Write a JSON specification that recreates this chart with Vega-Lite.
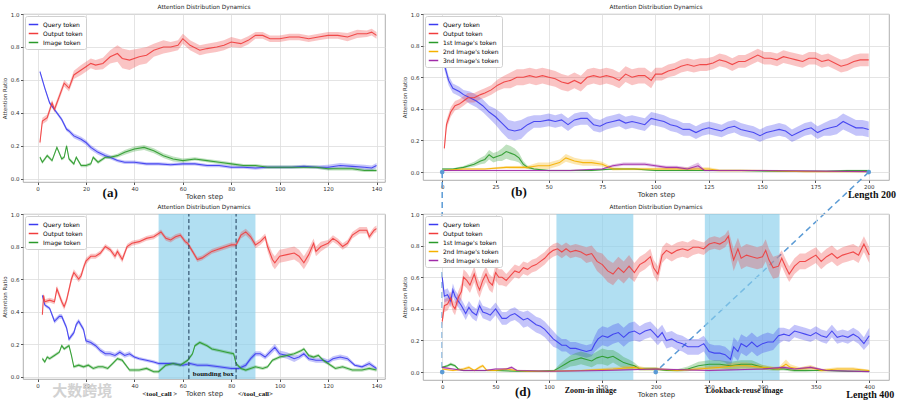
{
"$schema":"https://vega.github.io/schema/vega-lite/v6.json",
"background":"white",
"padding":{"left":1,"top":3,"right":4,"bottom":2},
"config":{
 "font":"DejaVu Sans",
 "view":{"stroke":"#9a9a9a","strokeWidth":0.8},
 "axis":{"grid":true,"gridColor":"#dddddd","gridWidth":0.8,"domain":false,"tickColor":"#555555","tickSize":2.5,"labelFontSize":5.5,"labelColor":"#333333","titleFontSize":5.5,"titleFontWeight":"normal","titleColor":"#333333","labelPadding":1.5,"titlePadding":3},
 "axisX":{"titleFontSize":7,"titlePadding":1},
 "title":{"fontSize":5.8,"fontWeight":"normal","offset":2,"color":"#222222"}
},
"datasets":{
"a":[
{"s":"q","x":1,"y":0.65,"e":0.01},{"s":"q","x":3,"y":0.55,"e":0.01},{"s":"q","x":5,"y":0.46,"e":0.01},{"s":"q","x":8,"y":0.40,"e":0.01},{"s":"q","x":10,"y":0.36,"e":0.012},{"s":"q","x":12,"y":0.30,"e":0.012},{"s":"q","x":13,"y":0.29,"e":0.012},{"s":"q","x":15,"y":0.26,"e":0.015},{"s":"q","x":18,"y":0.24,"e":0.015},{"s":"q","x":20,"y":0.22,"e":0.015},{"s":"q","x":22,"y":0.19,"e":0.015},{"s":"q","x":25,"y":0.16,"e":0.015},{"s":"q","x":28,"y":0.14,"e":0.015},{"s":"q","x":30,"y":0.13,"e":0.012},{"s":"q","x":33,"y":0.11,"e":0.01},{"s":"q","x":36,"y":0.10,"e":0.01},{"s":"q","x":40,"y":0.10,"e":0.01},{"s":"q","x":45,"y":0.09,"e":0.01},{"s":"q","x":50,"y":0.09,"e":0.01},{"s":"q","x":55,"y":0.085,"e":0.01},{"s":"q","x":60,"y":0.09,"e":0.01},{"s":"q","x":65,"y":0.09,"e":0.01},{"s":"q","x":70,"y":0.08,"e":0.01},{"s":"q","x":75,"y":0.08,"e":0.01},{"s":"q","x":80,"y":0.07,"e":0.01},{"s":"q","x":85,"y":0.07,"e":0.01},{"s":"q","x":90,"y":0.065,"e":0.01},{"s":"q","x":95,"y":0.07,"e":0.01},{"s":"q","x":100,"y":0.07,"e":0.01},{"s":"q","x":105,"y":0.07,"e":0.01},{"s":"q","x":110,"y":0.075,"e":0.01},{"s":"q","x":115,"y":0.07,"e":0.01},{"s":"q","x":120,"y":0.07,"e":0.015},{"s":"q","x":125,"y":0.08,"e":0.015},{"s":"q","x":130,"y":0.075,"e":0.015},{"s":"q","x":135,"y":0.07,"e":0.015},{"s":"q","x":138,"y":0.065,"e":0.015},{"s":"q","x":140,"y":0.08,"e":0.015},
{"s":"o","x":1,"y":0.22,"e":0.02},{"s":"o","x":2,"y":0.35,"e":0.02},{"s":"o","x":4,"y":0.37,"e":0.02},{"s":"o","x":6,"y":0.46,"e":0.02},{"s":"o","x":7,"y":0.42,"e":0.02},{"s":"o","x":9,"y":0.50,"e":0.02},{"s":"o","x":11,"y":0.58,"e":0.02},{"s":"o","x":13,"y":0.55,"e":0.02},{"s":"o","x":15,"y":0.63,"e":0.025},{"s":"o","x":18,"y":0.66,"e":0.03},{"s":"o","x":20,"y":0.68,"e":0.03},{"s":"o","x":22,"y":0.70,"e":0.03},{"s":"o","x":24,"y":0.69,"e":0.03},{"s":"o","x":27,"y":0.70,"e":0.035},{"s":"o","x":30,"y":0.74,"e":0.04},{"s":"o","x":33,"y":0.76,"e":0.05},{"s":"o","x":35,"y":0.73,"e":0.06},{"s":"o","x":38,"y":0.72,"e":0.06},{"s":"o","x":42,"y":0.74,"e":0.05},{"s":"o","x":45,"y":0.75,"e":0.05},{"s":"o","x":48,"y":0.78,"e":0.04},{"s":"o","x":52,"y":0.80,"e":0.04},{"s":"o","x":55,"y":0.80,"e":0.03},{"s":"o","x":58,"y":0.81,"e":0.03},{"s":"o","x":60,"y":0.85,"e":0.03},{"s":"o","x":63,"y":0.81,"e":0.03},{"s":"o","x":67,"y":0.78,"e":0.03},{"s":"o","x":70,"y":0.79,"e":0.03},{"s":"o","x":74,"y":0.80,"e":0.03},{"s":"o","x":77,"y":0.81,"e":0.03},{"s":"o","x":80,"y":0.83,"e":0.03},{"s":"o","x":84,"y":0.82,"e":0.025},{"s":"o","x":87,"y":0.84,"e":0.025},{"s":"o","x":90,"y":0.87,"e":0.02},{"s":"o","x":93,"y":0.87,"e":0.02},{"s":"o","x":96,"y":0.85,"e":0.02},{"s":"o","x":100,"y":0.85,"e":0.02},{"s":"o","x":104,"y":0.86,"e":0.02},{"s":"o","x":108,"y":0.86,"e":0.02},{"s":"o","x":112,"y":0.85,"e":0.02},{"s":"o","x":116,"y":0.86,"e":0.02},{"s":"o","x":120,"y":0.87,"e":0.02},{"s":"o","x":124,"y":0.87,"e":0.02},{"s":"o","x":128,"y":0.86,"e":0.025},{"s":"o","x":132,"y":0.88,"e":0.025},{"s":"o","x":136,"y":0.88,"e":0.02},{"s":"o","x":138,"y":0.89,"e":0.02},{"s":"o","x":140,"y":0.87,"e":0.02},
{"s":"i","x":1,"y":0.13,"e":0.01},{"s":"i","x":2,"y":0.10,"e":0.01},{"s":"i","x":4,"y":0.14,"e":0.01},{"s":"i","x":6,"y":0.11,"e":0.01},{"s":"i","x":8,"y":0.19,"e":0.01},{"s":"i","x":10,"y":0.12,"e":0.01},{"s":"i","x":11,"y":0.13,"e":0.01},{"s":"i","x":12,"y":0.20,"e":0.01},{"s":"i","x":13,"y":0.12,"e":0.01},{"s":"i","x":15,"y":0.09,"e":0.01},{"s":"i","x":16,"y":0.13,"e":0.01},{"s":"i","x":18,"y":0.08,"e":0.01},{"s":"i","x":20,"y":0.08,"e":0.01},{"s":"i","x":22,"y":0.09,"e":0.01},{"s":"i","x":23,"y":0.13,"e":0.01},{"s":"i","x":25,"y":0.10,"e":0.01},{"s":"i","x":28,"y":0.13,"e":0.01},{"s":"i","x":30,"y":0.13,"e":0.01},{"s":"i","x":33,"y":0.14,"e":0.012},{"s":"i","x":36,"y":0.16,"e":0.015},{"s":"i","x":40,"y":0.18,"e":0.015},{"s":"i","x":44,"y":0.19,"e":0.015},{"s":"i","x":48,"y":0.17,"e":0.015},{"s":"i","x":52,"y":0.14,"e":0.015},{"s":"i","x":56,"y":0.12,"e":0.015},{"s":"i","x":60,"y":0.11,"e":0.012},{"s":"i","x":65,"y":0.12,"e":0.01},{"s":"i","x":70,"y":0.11,"e":0.01},{"s":"i","x":75,"y":0.10,"e":0.01},{"s":"i","x":80,"y":0.09,"e":0.01},{"s":"i","x":85,"y":0.08,"e":0.01},{"s":"i","x":90,"y":0.08,"e":0.01},{"s":"i","x":95,"y":0.07,"e":0.01},{"s":"i","x":100,"y":0.07,"e":0.01},{"s":"i","x":105,"y":0.07,"e":0.01},{"s":"i","x":110,"y":0.07,"e":0.01},{"s":"i","x":115,"y":0.07,"e":0.01},{"s":"i","x":120,"y":0.06,"e":0.01},{"s":"i","x":125,"y":0.06,"e":0.01},{"s":"i","x":130,"y":0.06,"e":0.01},{"s":"i","x":135,"y":0.05,"e":0.01},{"s":"i","x":140,"y":0.05,"e":0.01}
],
"b":[
{"s":"q","x":0,"y":0.76,"e":0.03},{"s":"q","x":1,"y":0.68,"e":0.03},{"s":"q","x":3,"y":0.58,"e":0.03},{"s":"q","x":5,"y":0.53,"e":0.03},{"s":"q","x":8,"y":0.51,"e":0.03},{"s":"q","x":10,"y":0.49,"e":0.03},{"s":"q","x":13,"y":0.47,"e":0.04},{"s":"q","x":16,"y":0.45,"e":0.04},{"s":"q","x":19,"y":0.42,"e":0.04},{"s":"q","x":22,"y":0.38,"e":0.04},{"s":"q","x":25,"y":0.35,"e":0.05},{"s":"q","x":28,"y":0.31,"e":0.06},{"s":"q","x":31,"y":0.27,"e":0.06},{"s":"q","x":34,"y":0.26,"e":0.06},{"s":"q","x":37,"y":0.27,"e":0.06},{"s":"q","x":40,"y":0.30,"e":0.05},{"s":"q","x":43,"y":0.32,"e":0.04},{"s":"q","x":46,"y":0.32,"e":0.04},{"s":"q","x":50,"y":0.33,"e":0.04},{"s":"q","x":53,"y":0.32,"e":0.04},{"s":"q","x":56,"y":0.33,"e":0.04},{"s":"q","x":59,"y":0.30,"e":0.04},{"s":"q","x":62,"y":0.33,"e":0.04},{"s":"q","x":65,"y":0.34,"e":0.04},{"s":"q","x":68,"y":0.34,"e":0.04},{"s":"q","x":71,"y":0.30,"e":0.04},{"s":"q","x":74,"y":0.29,"e":0.04},{"s":"q","x":77,"y":0.31,"e":0.04},{"s":"q","x":80,"y":0.32,"e":0.04},{"s":"q","x":83,"y":0.33,"e":0.04},{"s":"q","x":86,"y":0.31,"e":0.04},{"s":"q","x":89,"y":0.32,"e":0.04},{"s":"q","x":92,"y":0.31,"e":0.04},{"s":"q","x":95,"y":0.30,"e":0.04},{"s":"q","x":98,"y":0.34,"e":0.04},{"s":"q","x":101,"y":0.33,"e":0.04},{"s":"q","x":104,"y":0.32,"e":0.04},{"s":"q","x":107,"y":0.30,"e":0.04},{"s":"q","x":110,"y":0.29,"e":0.04},{"s":"q","x":113,"y":0.27,"e":0.04},{"s":"q","x":116,"y":0.27,"e":0.04},{"s":"q","x":119,"y":0.25,"e":0.04},{"s":"q","x":122,"y":0.27,"e":0.04},{"s":"q","x":125,"y":0.28,"e":0.04},{"s":"q","x":128,"y":0.27,"e":0.04},{"s":"q","x":131,"y":0.26,"e":0.04},{"s":"q","x":134,"y":0.28,"e":0.04},{"s":"q","x":137,"y":0.29,"e":0.04},{"s":"q","x":140,"y":0.27,"e":0.04},{"s":"q","x":143,"y":0.26,"e":0.04},{"s":"q","x":146,"y":0.25,"e":0.04},{"s":"q","x":149,"y":0.23,"e":0.04},{"s":"q","x":152,"y":0.25,"e":0.04},{"s":"q","x":155,"y":0.26,"e":0.04},{"s":"q","x":158,"y":0.27,"e":0.04},{"s":"q","x":161,"y":0.26,"e":0.04},{"s":"q","x":164,"y":0.23,"e":0.04},{"s":"q","x":167,"y":0.25,"e":0.04},{"s":"q","x":170,"y":0.27,"e":0.04},{"s":"q","x":173,"y":0.28,"e":0.04},{"s":"q","x":176,"y":0.25,"e":0.04},{"s":"q","x":179,"y":0.27,"e":0.04},{"s":"q","x":182,"y":0.28,"e":0.05},{"s":"q","x":185,"y":0.29,"e":0.05},{"s":"q","x":188,"y":0.32,"e":0.05},{"s":"q","x":191,"y":0.30,"e":0.05},{"s":"q","x":194,"y":0.28,"e":0.05},{"s":"q","x":197,"y":0.28,"e":0.05},{"s":"q","x":200,"y":0.27,"e":0.05},
{"s":"o","x":1,"y":0.15,"e":0.02},{"s":"o","x":2,"y":0.30,"e":0.03},{"s":"o","x":4,"y":0.38,"e":0.03},{"s":"o","x":6,"y":0.42,"e":0.03},{"s":"o","x":8,"y":0.43,"e":0.03},{"s":"o","x":10,"y":0.45,"e":0.03},{"s":"o","x":12,"y":0.47,"e":0.03},{"s":"o","x":15,"y":0.47,"e":0.03},{"s":"o","x":18,"y":0.49,"e":0.03},{"s":"o","x":20,"y":0.50,"e":0.03},{"s":"o","x":23,"y":0.52,"e":0.03},{"s":"o","x":26,"y":0.55,"e":0.035},{"s":"o","x":29,"y":0.57,"e":0.04},{"s":"o","x":32,"y":0.58,"e":0.05},{"s":"o","x":35,"y":0.60,"e":0.05},{"s":"o","x":38,"y":0.60,"e":0.05},{"s":"o","x":41,"y":0.61,"e":0.05},{"s":"o","x":44,"y":0.60,"e":0.05},{"s":"o","x":47,"y":0.61,"e":0.05},{"s":"o","x":50,"y":0.60,"e":0.05},{"s":"o","x":53,"y":0.59,"e":0.05},{"s":"o","x":56,"y":0.57,"e":0.05},{"s":"o","x":59,"y":0.56,"e":0.05},{"s":"o","x":62,"y":0.58,"e":0.05},{"s":"o","x":65,"y":0.56,"e":0.05},{"s":"o","x":68,"y":0.60,"e":0.05},{"s":"o","x":71,"y":0.61,"e":0.05},{"s":"o","x":74,"y":0.60,"e":0.05},{"s":"o","x":77,"y":0.61,"e":0.05},{"s":"o","x":80,"y":0.60,"e":0.05},{"s":"o","x":83,"y":0.58,"e":0.05},{"s":"o","x":86,"y":0.62,"e":0.05},{"s":"o","x":89,"y":0.60,"e":0.05},{"s":"o","x":92,"y":0.61,"e":0.05},{"s":"o","x":95,"y":0.61,"e":0.05},{"s":"o","x":98,"y":0.58,"e":0.05},{"s":"o","x":100,"y":0.62,"e":0.04},{"s":"o","x":103,"y":0.62,"e":0.04},{"s":"o","x":106,"y":0.64,"e":0.04},{"s":"o","x":109,"y":0.65,"e":0.04},{"s":"o","x":112,"y":0.67,"e":0.04},{"s":"o","x":115,"y":0.68,"e":0.04},{"s":"o","x":118,"y":0.67,"e":0.04},{"s":"o","x":121,"y":0.68,"e":0.04},{"s":"o","x":124,"y":0.68,"e":0.04},{"s":"o","x":127,"y":0.69,"e":0.04},{"s":"o","x":130,"y":0.71,"e":0.04},{"s":"o","x":133,"y":0.70,"e":0.04},{"s":"o","x":136,"y":0.68,"e":0.04},{"s":"o","x":139,"y":0.70,"e":0.04},{"s":"o","x":142,"y":0.70,"e":0.04},{"s":"o","x":145,"y":0.72,"e":0.04},{"s":"o","x":148,"y":0.74,"e":0.04},{"s":"o","x":151,"y":0.72,"e":0.04},{"s":"o","x":154,"y":0.72,"e":0.04},{"s":"o","x":157,"y":0.71,"e":0.04},{"s":"o","x":160,"y":0.73,"e":0.04},{"s":"o","x":163,"y":0.72,"e":0.04},{"s":"o","x":166,"y":0.71,"e":0.04},{"s":"o","x":169,"y":0.70,"e":0.04},{"s":"o","x":172,"y":0.72,"e":0.04},{"s":"o","x":175,"y":0.72,"e":0.04},{"s":"o","x":178,"y":0.70,"e":0.04},{"s":"o","x":181,"y":0.71,"e":0.04},{"s":"o","x":184,"y":0.69,"e":0.04},{"s":"o","x":187,"y":0.67,"e":0.04},{"s":"o","x":190,"y":0.68,"e":0.04},{"s":"o","x":193,"y":0.70,"e":0.04},{"s":"o","x":196,"y":0.71,"e":0.04},{"s":"o","x":200,"y":0.71,"e":0.04},
{"s":"i1","x":0,"y":0.02,"e":0.005},{"s":"i1","x":5,"y":0.02,"e":0.005},{"s":"i1","x":10,"y":0.03,"e":0.008},{"s":"i1","x":15,"y":0.05,"e":0.015},{"s":"i1","x":18,"y":0.07,"e":0.02},{"s":"i1","x":20,"y":0.08,"e":0.025},{"s":"i1","x":22,"y":0.11,"e":0.03},{"s":"i1","x":24,"y":0.09,"e":0.03},{"s":"i1","x":26,"y":0.10,"e":0.03},{"s":"i1","x":28,"y":0.11,"e":0.04},{"s":"i1","x":30,"y":0.13,"e":0.045},{"s":"i1","x":32,"y":0.12,"e":0.045},{"s":"i1","x":34,"y":0.11,"e":0.04},{"s":"i1","x":36,"y":0.09,"e":0.03},{"s":"i1","x":38,"y":0.05,"e":0.02},{"s":"i1","x":40,"y":0.03,"e":0.01},{"s":"i1","x":43,"y":0.02,"e":0.005},{"s":"i1","x":50,"y":0.01,"e":0.005},{"s":"i1","x":60,"y":0.01,"e":0.005},{"s":"i1","x":70,"y":0.01,"e":0.005},{"s":"i1","x":80,"y":0.02,"e":0.005},{"s":"i1","x":90,"y":0.02,"e":0.005},{"s":"i1","x":100,"y":0.01,"e":0.005},{"s":"i1","x":110,"y":0.01,"e":0.005},{"s":"i1","x":120,"y":0.01,"e":0.005},{"s":"i1","x":140,"y":0.01,"e":0.005},{"s":"i1","x":160,"y":0.005,"e":0.005},{"s":"i1","x":180,"y":0.005,"e":0.005},{"s":"i1","x":190,"y":0.01,"e":0.005},{"s":"i1","x":200,"y":0.01,"e":0.005},
{"s":"i2","x":0,"y":0.01,"e":0.005},{"s":"i2","x":10,"y":0.02,"e":0.005},{"s":"i2","x":20,"y":0.02,"e":0.005},{"s":"i2","x":30,"y":0.03,"e":0.008},{"s":"i2","x":40,"y":0.03,"e":0.01},{"s":"i2","x":45,"y":0.04,"e":0.02},{"s":"i2","x":50,"y":0.04,"e":0.02},{"s":"i2","x":55,"y":0.06,"e":0.02},{"s":"i2","x":58,"y":0.09,"e":0.025},{"s":"i2","x":62,"y":0.07,"e":0.02},{"s":"i2","x":66,"y":0.06,"e":0.02},{"s":"i2","x":70,"y":0.06,"e":0.02},{"s":"i2","x":75,"y":0.05,"e":0.015},{"s":"i2","x":80,"y":0.02,"e":0.01},{"s":"i2","x":85,"y":0.02,"e":0.008},{"s":"i2","x":90,"y":0.02,"e":0.008},{"s":"i2","x":100,"y":0.02,"e":0.008},{"s":"i2","x":110,"y":0.02,"e":0.01},{"s":"i2","x":120,"y":0.02,"e":0.01},{"s":"i2","x":125,"y":0.02,"e":0.01},{"s":"i2","x":130,"y":0.01,"e":0.008},{"s":"i2","x":140,"y":0.01,"e":0.008},{"s":"i2","x":150,"y":0.01,"e":0.005},{"s":"i2","x":170,"y":0.003,"e":0.003},{"s":"i2","x":200,"y":0.003,"e":0.003},
{"s":"i3","x":0,"y":0.01,"e":0.005},{"s":"i3","x":20,"y":0.01,"e":0.005},{"s":"i3","x":40,"y":0.01,"e":0.005},{"s":"i3","x":60,"y":0.01,"e":0.005},{"s":"i3","x":75,"y":0.02,"e":0.005},{"s":"i3","x":80,"y":0.04,"e":0.01},{"s":"i3","x":85,"y":0.05,"e":0.01},{"s":"i3","x":90,"y":0.05,"e":0.01},{"s":"i3","x":95,"y":0.05,"e":0.01},{"s":"i3","x":100,"y":0.04,"e":0.01},{"s":"i3","x":105,"y":0.03,"e":0.01},{"s":"i3","x":110,"y":0.03,"e":0.01},{"s":"i3","x":115,"y":0.02,"e":0.01},{"s":"i3","x":120,"y":0.04,"e":0.02},{"s":"i3","x":123,"y":0.01,"e":0.005},{"s":"i3","x":130,"y":0.01,"e":0.005},{"s":"i3","x":150,"y":0.01,"e":0.005},{"s":"i3","x":200,"y":0.003,"e":0.003}
],
"c":[
{"s":"q","x":2,"y":0.50,"e":0.01},{"s":"q","x":3,"y":0.44,"e":0.01},{"s":"q","x":5,"y":0.42,"e":0.01},{"s":"q","x":7,"y":0.34,"e":0.015},{"s":"q","x":9,"y":0.37,"e":0.015},{"s":"q","x":10,"y":0.37,"e":0.015},{"s":"q","x":12,"y":0.30,"e":0.015},{"s":"q","x":13,"y":0.23,"e":0.015},{"s":"q","x":15,"y":0.27,"e":0.015},{"s":"q","x":16,"y":0.32,"e":0.015},{"s":"q","x":17,"y":0.34,"e":0.015},{"s":"q","x":19,"y":0.29,"e":0.015},{"s":"q","x":20,"y":0.22,"e":0.015},{"s":"q","x":22,"y":0.21,"e":0.015},{"s":"q","x":24,"y":0.19,"e":0.015},{"s":"q","x":26,"y":0.16,"e":0.015},{"s":"q","x":28,"y":0.14,"e":0.015},{"s":"q","x":30,"y":0.14,"e":0.015},{"s":"q","x":32,"y":0.13,"e":0.015},{"s":"q","x":34,"y":0.15,"e":0.015},{"s":"q","x":36,"y":0.13,"e":0.015},{"s":"q","x":38,"y":0.14,"e":0.015},{"s":"q","x":40,"y":0.12,"e":0.01},{"s":"q","x":42,"y":0.11,"e":0.01},{"s":"q","x":45,"y":0.10,"e":0.01},{"s":"q","x":48,"y":0.09,"e":0.01},{"s":"q","x":50,"y":0.08,"e":0.01},{"s":"q","x":53,"y":0.08,"e":0.01},{"s":"q","x":56,"y":0.08,"e":0.01},{"s":"q","x":60,"y":0.07,"e":0.01},{"s":"q","x":63,"y":0.08,"e":0.01},{"s":"q","x":66,"y":0.07,"e":0.01},{"s":"q","x":70,"y":0.07,"e":0.01},{"s":"q","x":75,"y":0.06,"e":0.01},{"s":"q","x":80,"y":0.05,"e":0.01},{"s":"q","x":83,"y":0.05,"e":0.01},{"s":"q","x":86,"y":0.07,"e":0.015},{"s":"q","x":88,"y":0.11,"e":0.015},{"s":"q","x":90,"y":0.14,"e":0.015},{"s":"q","x":92,"y":0.14,"e":0.015},{"s":"q","x":94,"y":0.12,"e":0.015},{"s":"q","x":96,"y":0.15,"e":0.02},{"s":"q","x":98,"y":0.18,"e":0.02},{"s":"q","x":100,"y":0.14,"e":0.02},{"s":"q","x":103,"y":0.13,"e":0.02},{"s":"q","x":106,"y":0.11,"e":0.02},{"s":"q","x":108,"y":0.12,"e":0.015},{"s":"q","x":110,"y":0.14,"e":0.015},{"s":"q","x":112,"y":0.11,"e":0.015},{"s":"q","x":115,"y":0.10,"e":0.015},{"s":"q","x":118,"y":0.10,"e":0.015},{"s":"q","x":120,"y":0.09,"e":0.015},{"s":"q","x":122,"y":0.11,"e":0.015},{"s":"q","x":125,"y":0.12,"e":0.015},{"s":"q","x":128,"y":0.11,"e":0.015},{"s":"q","x":131,"y":0.07,"e":0.01},{"s":"q","x":134,"y":0.06,"e":0.01},{"s":"q","x":137,"y":0.08,"e":0.015},{"s":"q","x":140,"y":0.05,"e":0.01},
{"s":"o","x":2,"y":0.38,"e":0.015},{"s":"o","x":2.5,"y":0.50,"e":0.015},{"s":"o","x":3,"y":0.46,"e":0.015},{"s":"o","x":5,"y":0.47,"e":0.015},{"s":"o","x":7,"y":0.46,"e":0.015},{"s":"o","x":8,"y":0.54,"e":0.02},{"s":"o","x":10,"y":0.46,"e":0.02},{"s":"o","x":11,"y":0.43,"e":0.02},{"s":"o","x":12,"y":0.47,"e":0.02},{"s":"o","x":14,"y":0.60,"e":0.02},{"s":"o","x":15,"y":0.64,"e":0.02},{"s":"o","x":17,"y":0.60,"e":0.02},{"s":"o","x":18,"y":0.62,"e":0.02},{"s":"o","x":19,"y":0.67,"e":0.02},{"s":"o","x":20,"y":0.71,"e":0.02},{"s":"o","x":22,"y":0.74,"e":0.015},{"s":"o","x":24,"y":0.74,"e":0.015},{"s":"o","x":26,"y":0.76,"e":0.015},{"s":"o","x":28,"y":0.80,"e":0.015},{"s":"o","x":30,"y":0.78,"e":0.015},{"s":"o","x":32,"y":0.74,"e":0.02},{"s":"o","x":33,"y":0.77,"e":0.02},{"s":"o","x":35,"y":0.72,"e":0.02},{"s":"o","x":37,"y":0.80,"e":0.015},{"s":"o","x":39,"y":0.82,"e":0.015},{"s":"o","x":42,"y":0.83,"e":0.015},{"s":"o","x":45,"y":0.85,"e":0.015},{"s":"o","x":48,"y":0.86,"e":0.015},{"s":"o","x":50,"y":0.88,"e":0.015},{"s":"o","x":51,"y":0.89,"e":0.015},{"s":"o","x":53,"y":0.85,"e":0.015},{"s":"o","x":55,"y":0.84,"e":0.015},{"s":"o","x":57,"y":0.86,"e":0.015},{"s":"o","x":59,"y":0.87,"e":0.015},{"s":"o","x":61,"y":0.83,"e":0.015},{"s":"o","x":62,"y":0.82,"e":0.015},{"s":"o","x":64,"y":0.77,"e":0.015},{"s":"o","x":66,"y":0.72,"e":0.015},{"s":"o","x":68,"y":0.73,"e":0.015},{"s":"o","x":70,"y":0.75,"e":0.015},{"s":"o","x":72,"y":0.77,"e":0.015},{"s":"o","x":74,"y":0.78,"e":0.015},{"s":"o","x":76,"y":0.79,"e":0.015},{"s":"o","x":78,"y":0.80,"e":0.015},{"s":"o","x":80,"y":0.81,"e":0.015},{"s":"o","x":82,"y":0.81,"e":0.015},{"s":"o","x":84,"y":0.87,"e":0.02},{"s":"o","x":86,"y":0.89,"e":0.02},{"s":"o","x":88,"y":0.86,"e":0.02},{"s":"o","x":90,"y":0.81,"e":0.02},{"s":"o","x":92,"y":0.83,"e":0.02},{"s":"o","x":94,"y":0.86,"e":0.02},{"s":"o","x":95,"y":0.80,"e":0.03},{"s":"o","x":97,"y":0.72,"e":0.04},{"s":"o","x":98,"y":0.70,"e":0.04},{"s":"o","x":100,"y":0.74,"e":0.04},{"s":"o","x":103,"y":0.75,"e":0.04},{"s":"o","x":106,"y":0.76,"e":0.04},{"s":"o","x":108,"y":0.74,"e":0.04},{"s":"o","x":110,"y":0.70,"e":0.04},{"s":"o","x":112,"y":0.75,"e":0.04},{"s":"o","x":114,"y":0.82,"e":0.03},{"s":"o","x":115,"y":0.77,"e":0.03},{"s":"o","x":117,"y":0.80,"e":0.03},{"s":"o","x":120,"y":0.82,"e":0.02},{"s":"o","x":122,"y":0.85,"e":0.02},{"s":"o","x":124,"y":0.83,"e":0.02},{"s":"o","x":126,"y":0.80,"e":0.02},{"s":"o","x":128,"y":0.82,"e":0.02},{"s":"o","x":130,"y":0.87,"e":0.02},{"s":"o","x":133,"y":0.90,"e":0.02},{"s":"o","x":136,"y":0.90,"e":0.02},{"s":"o","x":137,"y":0.86,"e":0.02},{"s":"o","x":139,"y":0.90,"e":0.02},{"s":"o","x":140,"y":0.91,"e":0.02},
{"s":"i","x":2,"y":0.11,"e":0.01},{"s":"i","x":3,"y":0.09,"e":0.01},{"s":"i","x":4,"y":0.12,"e":0.01},{"s":"i","x":5,"y":0.11,"e":0.01},{"s":"i","x":7,"y":0.13,"e":0.01},{"s":"i","x":9,"y":0.15,"e":0.01},{"s":"i","x":10,"y":0.19,"e":0.01},{"s":"i","x":11,"y":0.17,"e":0.01},{"s":"i","x":12,"y":0.18,"e":0.01},{"s":"i","x":13,"y":0.19,"e":0.01},{"s":"i","x":14,"y":0.13,"e":0.01},{"s":"i","x":15,"y":0.06,"e":0.01},{"s":"i","x":17,"y":0.07,"e":0.01},{"s":"i","x":19,"y":0.06,"e":0.01},{"s":"i","x":21,"y":0.07,"e":0.01},{"s":"i","x":23,"y":0.05,"e":0.01},{"s":"i","x":25,"y":0.06,"e":0.01},{"s":"i","x":27,"y":0.06,"e":0.01},{"s":"i","x":29,"y":0.05,"e":0.01},{"s":"i","x":31,"y":0.08,"e":0.01},{"s":"i","x":33,"y":0.11,"e":0.01},{"s":"i","x":35,"y":0.10,"e":0.01},{"s":"i","x":36,"y":0.08,"e":0.01},{"s":"i","x":38,"y":0.04,"e":0.01},{"s":"i","x":42,"y":0.04,"e":0.01},{"s":"i","x":45,"y":0.05,"e":0.01},{"s":"i","x":48,"y":0.03,"e":0.01},{"s":"i","x":50,"y":0.03,"e":0.01},{"s":"i","x":53,"y":0.07,"e":0.01},{"s":"i","x":56,"y":0.08,"e":0.01},{"s":"i","x":59,"y":0.07,"e":0.01},{"s":"i","x":62,"y":0.10,"e":0.01},{"s":"i","x":64,"y":0.14,"e":0.01},{"s":"i","x":65,"y":0.19,"e":0.01},{"s":"i","x":67,"y":0.21,"e":0.01},{"s":"i","x":70,"y":0.19,"e":0.01},{"s":"i","x":72,"y":0.17,"e":0.01},{"s":"i","x":75,"y":0.16,"e":0.01},{"s":"i","x":78,"y":0.15,"e":0.01},{"s":"i","x":81,"y":0.14,"e":0.01},{"s":"i","x":82,"y":0.08,"e":0.01},{"s":"i","x":84,"y":0.05,"e":0.01},{"s":"i","x":86,"y":0.04,"e":0.01},{"s":"i","x":88,"y":0.05,"e":0.01},{"s":"i","x":90,"y":0.06,"e":0.01},{"s":"i","x":93,"y":0.05,"e":0.01},{"s":"i","x":95,"y":0.06,"e":0.01},{"s":"i","x":97,"y":0.10,"e":0.01},{"s":"i","x":100,"y":0.12,"e":0.01},{"s":"i","x":103,"y":0.13,"e":0.01},{"s":"i","x":106,"y":0.14,"e":0.01},{"s":"i","x":109,"y":0.16,"e":0.01},{"s":"i","x":110,"y":0.17,"e":0.01},{"s":"i","x":112,"y":0.13,"e":0.01},{"s":"i","x":114,"y":0.12,"e":0.01},{"s":"i","x":116,"y":0.13,"e":0.01},{"s":"i","x":118,"y":0.10,"e":0.01},{"s":"i","x":120,"y":0.08,"e":0.01},{"s":"i","x":123,"y":0.05,"e":0.01},{"s":"i","x":126,"y":0.06,"e":0.01},{"s":"i","x":130,"y":0.04,"e":0.01},{"s":"i","x":134,"y":0.04,"e":0.01},{"s":"i","x":137,"y":0.05,"e":0.01},{"s":"i","x":140,"y":0.04,"e":0.01}
],
"d":[
{"s":"q","x":0,"y":0.60,"e":0.03},{"s":"q","x":2,"y":0.48,"e":0.04},{"s":"q","x":5,"y":0.49,"e":0.04},{"s":"q","x":8,"y":0.45,"e":0.04},{"s":"q","x":10,"y":0.52,"e":0.04},{"s":"q","x":12,"y":0.48,"e":0.04},{"s":"q","x":15,"y":0.45,"e":0.04},{"s":"q","x":18,"y":0.42,"e":0.04},{"s":"q","x":22,"y":0.37,"e":0.04},{"s":"q","x":25,"y":0.41,"e":0.04},{"s":"q","x":28,"y":0.38,"e":0.04},{"s":"q","x":32,"y":0.36,"e":0.04},{"s":"q","x":35,"y":0.42,"e":0.04},{"s":"q","x":38,"y":0.38,"e":0.04},{"s":"q","x":42,"y":0.37,"e":0.04},{"s":"q","x":45,"y":0.36,"e":0.04},{"s":"q","x":50,"y":0.40,"e":0.04},{"s":"q","x":53,"y":0.37,"e":0.04},{"s":"q","x":56,"y":0.34,"e":0.04},{"s":"q","x":60,"y":0.34,"e":0.04},{"s":"q","x":64,"y":0.36,"e":0.04},{"s":"q","x":68,"y":0.37,"e":0.04},{"s":"q","x":72,"y":0.35,"e":0.04},{"s":"q","x":76,"y":0.33,"e":0.05},{"s":"q","x":80,"y":0.34,"e":0.05},{"s":"q","x":84,"y":0.32,"e":0.05},{"s":"q","x":88,"y":0.30,"e":0.05},{"s":"q","x":92,"y":0.29,"e":0.05},{"s":"q","x":96,"y":0.27,"e":0.05},{"s":"q","x":100,"y":0.24,"e":0.05},{"s":"q","x":104,"y":0.21,"e":0.05},{"s":"q","x":108,"y":0.19,"e":0.04},{"s":"q","x":112,"y":0.17,"e":0.04},{"s":"q","x":116,"y":0.17,"e":0.04},{"s":"q","x":120,"y":0.15,"e":0.04},{"s":"q","x":125,"y":0.15,"e":0.04},{"s":"q","x":130,"y":0.14,"e":0.04},{"s":"q","x":135,"y":0.13,"e":0.04},{"s":"q","x":140,"y":0.14,"e":0.04},{"s":"q","x":143,"y":0.18,"e":0.05},{"s":"q","x":146,"y":0.21,"e":0.06},{"s":"q","x":150,"y":0.23,"e":0.06},{"s":"q","x":155,"y":0.22,"e":0.06},{"s":"q","x":160,"y":0.24,"e":0.06},{"s":"q","x":165,"y":0.25,"e":0.06},{"s":"q","x":170,"y":0.22,"e":0.06},{"s":"q","x":175,"y":0.25,"e":0.06},{"s":"q","x":180,"y":0.26,"e":0.06},{"s":"q","x":185,"y":0.24,"e":0.05},{"s":"q","x":190,"y":0.26,"e":0.05},{"s":"q","x":195,"y":0.27,"e":0.05},{"s":"q","x":198,"y":0.25,"e":0.05},{"s":"q","x":202,"y":0.22,"e":0.05},{"s":"q","x":206,"y":0.25,"e":0.05},{"s":"q","x":210,"y":0.20,"e":0.05},{"s":"q","x":215,"y":0.21,"e":0.05},{"s":"q","x":220,"y":0.19,"e":0.05},{"s":"q","x":225,"y":0.18,"e":0.05},{"s":"q","x":230,"y":0.16,"e":0.05},{"s":"q","x":235,"y":0.16,"e":0.05},{"s":"q","x":240,"y":0.16,"e":0.05},{"s":"q","x":245,"y":0.18,"e":0.05},{"s":"q","x":250,"y":0.13,"e":0.05},{"s":"q","x":255,"y":0.12,"e":0.05},{"s":"q","x":260,"y":0.12,"e":0.05},{"s":"q","x":265,"y":0.11,"e":0.05},{"s":"q","x":270,"y":0.08,"e":0.05},{"s":"q","x":273,"y":0.16,"e":0.06},{"s":"q","x":277,"y":0.13,"e":0.06},{"s":"q","x":280,"y":0.18,"e":0.06},{"s":"q","x":285,"y":0.16,"e":0.06},{"s":"q","x":290,"y":0.19,"e":0.06},{"s":"q","x":295,"y":0.16,"e":0.06},{"s":"q","x":300,"y":0.18,"e":0.06},{"s":"q","x":305,"y":0.19,"e":0.06},{"s":"q","x":310,"y":0.19,"e":0.05},{"s":"q","x":315,"y":0.23,"e":0.05},{"s":"q","x":320,"y":0.24,"e":0.04},{"s":"q","x":325,"y":0.23,"e":0.04},{"s":"q","x":330,"y":0.26,"e":0.04},{"s":"q","x":335,"y":0.25,"e":0.04},{"s":"q","x":340,"y":0.24,"e":0.04},{"s":"q","x":345,"y":0.23,"e":0.04},{"s":"q","x":350,"y":0.25,"e":0.04},{"s":"q","x":355,"y":0.23,"e":0.04},{"s":"q","x":360,"y":0.22,"e":0.04},{"s":"q","x":365,"y":0.26,"e":0.04},{"s":"q","x":370,"y":0.22,"e":0.04},{"s":"q","x":375,"y":0.23,"e":0.04},{"s":"q","x":380,"y":0.22,"e":0.04},{"s":"q","x":385,"y":0.24,"e":0.04},{"s":"q","x":390,"y":0.22,"e":0.04},{"s":"q","x":395,"y":0.18,"e":0.04},{"s":"q","x":400,"y":0.23,"e":0.05},
{"s":"o","x":0,"y":0.32,"e":0.03},{"s":"o","x":2,"y":0.42,"e":0.04},{"s":"o","x":5,"y":0.43,"e":0.04},{"s":"o","x":8,"y":0.47,"e":0.04},{"s":"o","x":10,"y":0.42,"e":0.04},{"s":"o","x":12,"y":0.40,"e":0.04},{"s":"o","x":15,"y":0.47,"e":0.04},{"s":"o","x":18,"y":0.51,"e":0.05},{"s":"o","x":20,"y":0.60,"e":0.05},{"s":"o","x":23,"y":0.58,"e":0.05},{"s":"o","x":26,"y":0.55,"e":0.05},{"s":"o","x":30,"y":0.62,"e":0.05},{"s":"o","x":33,"y":0.55,"e":0.05},{"s":"o","x":35,"y":0.52,"e":0.05},{"s":"o","x":38,"y":0.58,"e":0.05},{"s":"o","x":41,"y":0.62,"e":0.05},{"s":"o","x":44,"y":0.57,"e":0.05},{"s":"o","x":47,"y":0.55,"e":0.05},{"s":"o","x":50,"y":0.63,"e":0.05},{"s":"o","x":53,"y":0.60,"e":0.05},{"s":"o","x":56,"y":0.60,"e":0.05},{"s":"o","x":60,"y":0.58,"e":0.04},{"s":"o","x":64,"y":0.61,"e":0.04},{"s":"o","x":68,"y":0.64,"e":0.04},{"s":"o","x":72,"y":0.63,"e":0.04},{"s":"o","x":76,"y":0.66,"e":0.04},{"s":"o","x":80,"y":0.65,"e":0.04},{"s":"o","x":84,"y":0.67,"e":0.04},{"s":"o","x":88,"y":0.68,"e":0.04},{"s":"o","x":92,"y":0.70,"e":0.04},{"s":"o","x":96,"y":0.72,"e":0.04},{"s":"o","x":100,"y":0.75,"e":0.04},{"s":"o","x":104,"y":0.77,"e":0.04},{"s":"o","x":108,"y":0.78,"e":0.04},{"s":"o","x":112,"y":0.76,"e":0.04},{"s":"o","x":116,"y":0.78,"e":0.04},{"s":"o","x":120,"y":0.76,"e":0.04},{"s":"o","x":125,"y":0.77,"e":0.04},{"s":"o","x":130,"y":0.76,"e":0.04},{"s":"o","x":135,"y":0.74,"e":0.05},{"s":"o","x":140,"y":0.75,"e":0.05},{"s":"o","x":145,"y":0.70,"e":0.06},{"s":"o","x":150,"y":0.68,"e":0.07},{"s":"o","x":155,"y":0.64,"e":0.07},{"s":"o","x":160,"y":0.62,"e":0.07},{"s":"o","x":165,"y":0.66,"e":0.07},{"s":"o","x":170,"y":0.63,"e":0.07},{"s":"o","x":175,"y":0.67,"e":0.07},{"s":"o","x":180,"y":0.63,"e":0.06},{"s":"o","x":185,"y":0.68,"e":0.05},{"s":"o","x":190,"y":0.70,"e":0.05},{"s":"o","x":195,"y":0.73,"e":0.05},{"s":"o","x":198,"y":0.66,"e":0.05},{"s":"o","x":202,"y":0.62,"e":0.05},{"s":"o","x":206,"y":0.74,"e":0.05},{"s":"o","x":210,"y":0.77,"e":0.05},{"s":"o","x":215,"y":0.75,"e":0.05},{"s":"o","x":220,"y":0.77,"e":0.05},{"s":"o","x":225,"y":0.78,"e":0.05},{"s":"o","x":230,"y":0.77,"e":0.05},{"s":"o","x":235,"y":0.79,"e":0.05},{"s":"o","x":240,"y":0.79,"e":0.04},{"s":"o","x":245,"y":0.78,"e":0.04},{"s":"o","x":250,"y":0.81,"e":0.04},{"s":"o","x":255,"y":0.82,"e":0.04},{"s":"o","x":260,"y":0.81,"e":0.04},{"s":"o","x":265,"y":0.83,"e":0.04},{"s":"o","x":268,"y":0.86,"e":0.04},{"s":"o","x":270,"y":0.79,"e":0.06},{"s":"o","x":273,"y":0.71,"e":0.07},{"s":"o","x":277,"y":0.78,"e":0.07},{"s":"o","x":280,"y":0.72,"e":0.07},{"s":"o","x":285,"y":0.74,"e":0.07},{"s":"o","x":290,"y":0.73,"e":0.07},{"s":"o","x":295,"y":0.72,"e":0.07},{"s":"o","x":300,"y":0.73,"e":0.07},{"s":"o","x":303,"y":0.77,"e":0.07},{"s":"o","x":306,"y":0.71,"e":0.07},{"s":"o","x":310,"y":0.66,"e":0.07},{"s":"o","x":315,"y":0.67,"e":0.07},{"s":"o","x":318,"y":0.72,"e":0.05},{"s":"o","x":322,"y":0.66,"e":0.05},{"s":"o","x":325,"y":0.62,"e":0.05},{"s":"o","x":330,"y":0.67,"e":0.05},{"s":"o","x":335,"y":0.70,"e":0.05},{"s":"o","x":340,"y":0.70,"e":0.05},{"s":"o","x":345,"y":0.72,"e":0.05},{"s":"o","x":350,"y":0.74,"e":0.05},{"s":"o","x":355,"y":0.70,"e":0.05},{"s":"o","x":360,"y":0.73,"e":0.05},{"s":"o","x":365,"y":0.75,"e":0.05},{"s":"o","x":370,"y":0.72,"e":0.05},{"s":"o","x":375,"y":0.74,"e":0.05},{"s":"o","x":380,"y":0.75,"e":0.05},{"s":"o","x":385,"y":0.76,"e":0.05},{"s":"o","x":390,"y":0.74,"e":0.05},{"s":"o","x":395,"y":0.81,"e":0.05},{"s":"o","x":400,"y":0.74,"e":0.05},
{"s":"i1","x":0,"y":0.03,"e":0.005},{"s":"i1","x":5,"y":0.04,"e":0.008},{"s":"i1","x":8,"y":0.05,"e":0.01},{"s":"i1","x":12,"y":0.04,"e":0.008},{"s":"i1","x":15,"y":0.02,"e":0.005},{"s":"i1","x":20,"y":0.01,"e":0.005},{"s":"i1","x":30,"y":0.01,"e":0.005},{"s":"i1","x":50,"y":0.01,"e":0.005},{"s":"i1","x":70,"y":0.005,"e":0.005},{"s":"i1","x":90,"y":0.005,"e":0.005},{"s":"i1","x":105,"y":0.01,"e":0.005},{"s":"i1","x":110,"y":0.03,"e":0.02},{"s":"i1","x":115,"y":0.05,"e":0.03},{"s":"i1","x":120,"y":0.07,"e":0.035},{"s":"i1","x":125,"y":0.08,"e":0.04},{"s":"i1","x":130,"y":0.09,"e":0.04},{"s":"i1","x":135,"y":0.08,"e":0.04},{"s":"i1","x":140,"y":0.07,"e":0.04},{"s":"i1","x":145,"y":0.09,"e":0.04},{"s":"i1","x":150,"y":0.10,"e":0.05},{"s":"i1","x":155,"y":0.09,"e":0.05},{"s":"i1","x":160,"y":0.10,"e":0.04},{"s":"i1","x":165,"y":0.08,"e":0.04},{"s":"i1","x":170,"y":0.06,"e":0.035},{"s":"i1","x":175,"y":0.05,"e":0.03},{"s":"i1","x":180,"y":0.04,"e":0.02},{"s":"i1","x":185,"y":0.02,"e":0.01},{"s":"i1","x":190,"y":0.02,"e":0.01},{"s":"i1","x":200,"y":0.02,"e":0.01},{"s":"i1","x":210,"y":0.01,"e":0.005},{"s":"i1","x":220,"y":0.01,"e":0.008},{"s":"i1","x":230,"y":0.02,"e":0.015},{"s":"i1","x":240,"y":0.04,"e":0.025},{"s":"i1","x":250,"y":0.05,"e":0.025},{"s":"i1","x":260,"y":0.05,"e":0.025},{"s":"i1","x":270,"y":0.04,"e":0.025},{"s":"i1","x":280,"y":0.05,"e":0.025},{"s":"i1","x":290,"y":0.05,"e":0.025},{"s":"i1","x":295,"y":0.04,"e":0.02},{"s":"i1","x":300,"y":0.03,"e":0.015},{"s":"i1","x":310,"y":0.02,"e":0.01},{"s":"i1","x":320,"y":0.02,"e":0.01},{"s":"i1","x":330,"y":0.01,"e":0.01},{"s":"i1","x":340,"y":0.01,"e":0.01},{"s":"i1","x":350,"y":0.01,"e":0.005},{"s":"i1","x":360,"y":0.01,"e":0.005},{"s":"i1","x":380,"y":0.005,"e":0.005},{"s":"i1","x":400,"y":0.005,"e":0.005},
{"s":"i2","x":0,"y":0.02,"e":0.005},{"s":"i2","x":10,"y":0.01,"e":0.005},{"s":"i2","x":20,"y":0.02,"e":0.008},{"s":"i2","x":25,"y":0.03,"e":0.01},{"s":"i2","x":30,"y":0.01,"e":0.005},{"s":"i2","x":35,"y":0.03,"e":0.01},{"s":"i2","x":38,"y":0.04,"e":0.01},{"s":"i2","x":42,"y":0.01,"e":0.005},{"s":"i2","x":50,"y":0.01,"e":0.005},{"s":"i2","x":60,"y":0.02,"e":0.008},{"s":"i2","x":70,"y":0.01,"e":0.005},{"s":"i2","x":80,"y":0.005,"e":0.005},{"s":"i2","x":100,"y":0.005,"e":0.005},{"s":"i2","x":130,"y":0.01,"e":0.005},{"s":"i2","x":160,"y":0.02,"e":0.01},{"s":"i2","x":180,"y":0.03,"e":0.015},{"s":"i2","x":190,"y":0.02,"e":0.01},{"s":"i2","x":200,"y":0.02,"e":0.01},{"s":"i2","x":220,"y":0.01,"e":0.005},{"s":"i2","x":240,"y":0.02,"e":0.01},{"s":"i2","x":260,"y":0.03,"e":0.015},{"s":"i2","x":275,"y":0.04,"e":0.02},{"s":"i2","x":285,"y":0.04,"e":0.02},{"s":"i2","x":300,"y":0.03,"e":0.015},{"s":"i2","x":315,"y":0.02,"e":0.01},{"s":"i2","x":322,"y":0.05,"e":0.03},{"s":"i2","x":326,"y":0.03,"e":0.02},{"s":"i2","x":335,"y":0.02,"e":0.01},{"s":"i2","x":345,"y":0.03,"e":0.015},{"s":"i2","x":355,"y":0.01,"e":0.01},{"s":"i2","x":370,"y":0.02,"e":0.01},{"s":"i2","x":385,"y":0.02,"e":0.01},{"s":"i2","x":400,"y":0.01,"e":0.005},
{"s":"i3","x":0,"y":0.03,"e":0.005},{"s":"i3","x":10,"y":0.02,"e":0.005},{"s":"i3","x":20,"y":0.01,"e":0.005},{"s":"i3","x":40,"y":0.01,"e":0.005},{"s":"i3","x":50,"y":0.02,"e":0.005},{"s":"i3","x":60,"y":0.02,"e":0.005},{"s":"i3","x":65,"y":0.03,"e":0.008},{"s":"i3","x":70,"y":0.01,"e":0.005},{"s":"i3","x":100,"y":0.005,"e":0.005},{"s":"i3","x":150,"y":0.01,"e":0.005},{"s":"i3","x":200,"y":0.02,"e":0.005},{"s":"i3","x":250,"y":0.01,"e":0.005},{"s":"i3","x":300,"y":0.02,"e":0.005},{"s":"i3","x":320,"y":0.03,"e":0.008},{"s":"i3","x":330,"y":0.02,"e":0.005},{"s":"i3","x":345,"y":0.03,"e":0.008},{"s":"i3","x":360,"y":0.01,"e":0.005},{"s":"i3","x":400,"y":0.003,"e":0.003}
]
},
"bounds":"flush",
"align":"each",
"columns":2,
"spacing":{"row":32,"column":38},
"resolve":{"scale":{"color":"independent"},"legend":{"color":"independent"}},
"concat":[
{
 "width":362,"height":168,
 "title":"Attention Distribution Dynamics",
 "encoding":{
  "x":{"field":"x","type":"quantitative","scale":{"domain":[-6,143.5],"nice":false,"zero":false},"axis":{"values":[0,20,40,60,80,100,120,140],"title":"Token step"}},
  "y":{"field":"y","type":"quantitative","scale":{"domain":[-0.02,1],"nice":false,"zero":false},"axis":{"values":[0,0.2,0.4,0.6,0.8,1],"format":".1f","title":"Attention Ratio"}}
 },
 "layer":[
  {"data":{"name":"a"},
   "encoding":{"color":{"field":"s","type":"nominal","scale":{"domain":["q","o","i"],"range":["#3b3bf0","#f03c3c","#2a9a2a"]},
     "legend":{"orient":"top-left","title":null,"labelExpr":"datum.value=='q'?'Query token':datum.value=='o'?'Output token':'Image token'","symbolType":"stroke","fillColor":"white","strokeColor":"#d0d0d0","padding":3,"offset":2,"labelFontSize":6,"symbolSize":90,"symbolStrokeWidth":1.5,"rowPadding":0,"labelOffset":4,"cornerRadius":2,"symbolOpacity":1}}},
   "layer":[
    {"mark":{"type":"errorband"},"encoding":{"yError":{"field":"e"}}},
    {"mark":{"type":"line","strokeWidth":1.1,"opacity":0.9}}
   ]},
  {"data":{"values":[{"x":30,"y":-0.085,"t":"(a)"}]},
   "mark":{"type":"text","font":"Liberation Serif","fontWeight":"bold","fontSize":13,"color":"#111111"},
   "encoding":{"text":{"field":"t"}}}
 ]
},
{
 "width":466,"height":166,
 "title":"Attention Distribution Dynamics",
 "encoding":{
  "x":{"field":"x","type":"quantitative","scale":{"domain":[-9,209.5],"nice":false,"zero":false},"axis":{"values":[0,25,50,75,100,125,150,175,200],"title":"Token step"}},
  "y":{"field":"y","type":"quantitative","scale":{"domain":[-0.05,1],"nice":false,"zero":false},"axis":{"values":[0,0.2,0.4,0.6,0.8,1],"format":".1f","title":"Attention Ratio"}}
 },
 "layer":[
  {"data":{"name":"b"},
   "encoding":{"color":{"field":"s","type":"nominal","scale":{"domain":["q","o","i1","i2","i3"],"range":["#3b3bf0","#f03c3c","#2a9a2a","#f5b000","#a02aa8"]},
     "legend":{"orient":"top-left","title":null,"labelExpr":"datum.value=='q'?'Query token':datum.value=='o'?'Output token':datum.value=='i1'?\"1st Image's token\":datum.value=='i2'?\"2nd Image's token\":\"3nd Image's token\"","symbolType":"stroke","fillColor":"white","strokeColor":"#d0d0d0","padding":3,"offset":2,"labelFontSize":6,"symbolSize":90,"symbolStrokeWidth":1.5,"rowPadding":0,"labelOffset":4,"cornerRadius":2,"symbolOpacity":1}}},
   "layer":[
    {"mark":{"type":"errorband"},"encoding":{"yError":{"field":"e"}}},
    {"mark":{"type":"line","strokeWidth":1.1,"opacity":0.9}}
   ]},
  {"data":{"values":[{"x":0,"y":0,"x2":0,"y2":-1.265},{"x":200,"y":0,"x2":100,"y2":-1.265}]},
   "mark":{"type":"rule","color":"#5b9bd5","strokeDash":[6,4],"strokeWidth":1.5},
   "encoding":{"x2":{"field":"x2"},"y2":{"field":"y2"}}},
  {"data":{"values":[{"x":0,"y":0},{"x":200,"y":0}]},
   "mark":{"type":"point","filled":true,"size":22,"color":"#5b9bd5","opacity":1}},
  {"data":{"values":[{"x":36,"y":-0.127,"t":"(b)","f":13},{"x":201.5,"y":-0.147,"t":"Length 200","f":10}]},
   "mark":{"type":"text","font":"Liberation Serif","fontWeight":"bold","color":"#111111"},
   "encoding":{"text":{"field":"t"},"size":{"field":"f","type":"quantitative","scale":null}}}
 ]
},
{
 "width":362,"height":165,
 "title":"Attention Distribution Dynamics",
 "encoding":{
  "x":{"field":"x","type":"quantitative","scale":{"domain":[-6,143.5],"nice":false,"zero":false},"axis":{"values":[0,20,40,60,80,100,120,140],"title":"Token step"}},
  "y":{"field":"y","type":"quantitative","scale":{"domain":[-0.015,1],"nice":false,"zero":false},"axis":{"values":[0,0.2,0.4,0.6,0.8,1],"format":".1f","title":"Attention Ratio"}}
 },
 "layer":[
  {"data":{"values":[{"x":50,"x2":90,"y":-0.015,"y2":1}]},
   "mark":{"type":"rect","color":"#87ceeb","opacity":0.65},
   "encoding":{"x2":{"field":"x2"},"y2":{"field":"y2"}}},
  {"data":{"name":"c"},
   "encoding":{"color":{"field":"s","type":"nominal","scale":{"domain":["q","o","i"],"range":["#3b3bf0","#f03c3c","#2a9a2a"]},
     "legend":{"orient":"top-left","title":null,"labelExpr":"datum.value=='q'?'Query token':datum.value=='o'?'Output token':'Image token'","symbolType":"stroke","fillColor":"white","strokeColor":"#d0d0d0","padding":3,"offset":2,"labelFontSize":6,"symbolSize":90,"symbolStrokeWidth":1.5,"rowPadding":0,"labelOffset":4,"cornerRadius":2,"symbolOpacity":1}}},
   "layer":[
    {"mark":{"type":"errorband"},"encoding":{"yError":{"field":"e"}}},
    {"mark":{"type":"line","strokeWidth":1.1,"opacity":0.9}}
   ]},
  {"data":{"values":[{"x":62.5,"y":-0.015,"y2":1},{"x":82,"y":-0.015,"y2":1}]},
   "mark":{"type":"rule","color":"#2b4a66","strokeDash":[4,2.5],"strokeWidth":1.1},
   "encoding":{"y2":{"field":"y2"}}},
  {"data":{"values":[{"x":18.5,"y":-0.09,"t":"大数跨境"}]},
   "mark":{"type":"text","font":"Noto Sans CJK SC","fontWeight":"bold","fontSize":15,"color":"#d2d2d2"},
   "encoding":{"text":{"field":"t"}}},
  {"data":{"values":[{"x":50.5,"y":-0.105,"t":"<tool_call >"},{"x":90,"y":-0.105,"t":"</tool_call>"},{"x":72.6,"y":0.017,"t":"bounding box"}]},
   "mark":{"type":"text","font":"Liberation Serif","fontWeight":"bold","fontSize":7,"color":"#111111"},
   "encoding":{"text":{"field":"t"}}}
 ]
},
{
 "width":466,"height":166,
 "title":"Attention Distribution Dynamics",
 "encoding":{
  "x":{"field":"x","type":"quantitative","scale":{"domain":[-18,418.5],"nice":false,"zero":false},"axis":{"values":[0,50,100,150,200,250,300,350,400],"title":"Token step"}},
  "y":{"field":"y","type":"quantitative","scale":{"domain":[-0.05,1],"nice":false,"zero":false},"axis":{"values":[0,0.2,0.4,0.6,0.8,1],"format":".1f","title":"Attention Ratio"}}
 },
 "layer":[
  {"data":{"values":[{"x":107,"x2":179,"y":-0.05,"y2":1},{"x":246,"x2":316,"y":-0.05,"y2":1}]},
   "mark":{"type":"rect","color":"#87ceeb","opacity":0.65},
   "encoding":{"x2":{"field":"x2"},"y2":{"field":"y2"}}},
  {"data":{"name":"d"},
   "encoding":{"color":{"field":"s","type":"nominal","scale":{"domain":["q","o","i1","i2","i3"],"range":["#3b3bf0","#f03c3c","#2a9a2a","#f5b000","#a02aa8"]},
     "legend":{"orient":"top-left","title":null,"labelExpr":"datum.value=='q'?'Query token':datum.value=='o'?'Output token':datum.value=='i1'?\"1st Image's token\":datum.value=='i2'?\"2nd Image's token\":\"3nd Image's token\"","symbolType":"stroke","fillColor":"white","strokeColor":"#d0d0d0","padding":3,"offset":2,"labelFontSize":6,"symbolSize":90,"symbolStrokeWidth":1.5,"rowPadding":0,"labelOffset":4,"cornerRadius":2,"symbolOpacity":1}}},
   "layer":[
    {"mark":{"type":"errorband"},"encoding":{"yError":{"field":"e"}}},
    {"mark":{"type":"line","strokeWidth":1.1,"opacity":0.9}}
   ]},
  {"data":{"values":[{"x":0,"y":0},{"x":200,"y":0}]},
   "mark":{"type":"point","filled":true,"size":22,"color":"#5b9bd5","opacity":1}},
  {"data":{"values":[{"x":75.6,"y":-0.127,"t":"(d)","f":13},{"x":401,"y":-0.148,"t":"Length 400","f":10},{"x":139,"y":-0.117,"t":"Zoom-in image","f":8},{"x":283,"y":-0.117,"t":"Lookback-reuse image","f":8}]},
   "mark":{"type":"text","font":"Liberation Serif","fontWeight":"bold","color":"#111111"},
   "encoding":{"text":{"field":"t"},"size":{"field":"f","type":"quantitative","scale":null}}}
 ]
}
]
}
